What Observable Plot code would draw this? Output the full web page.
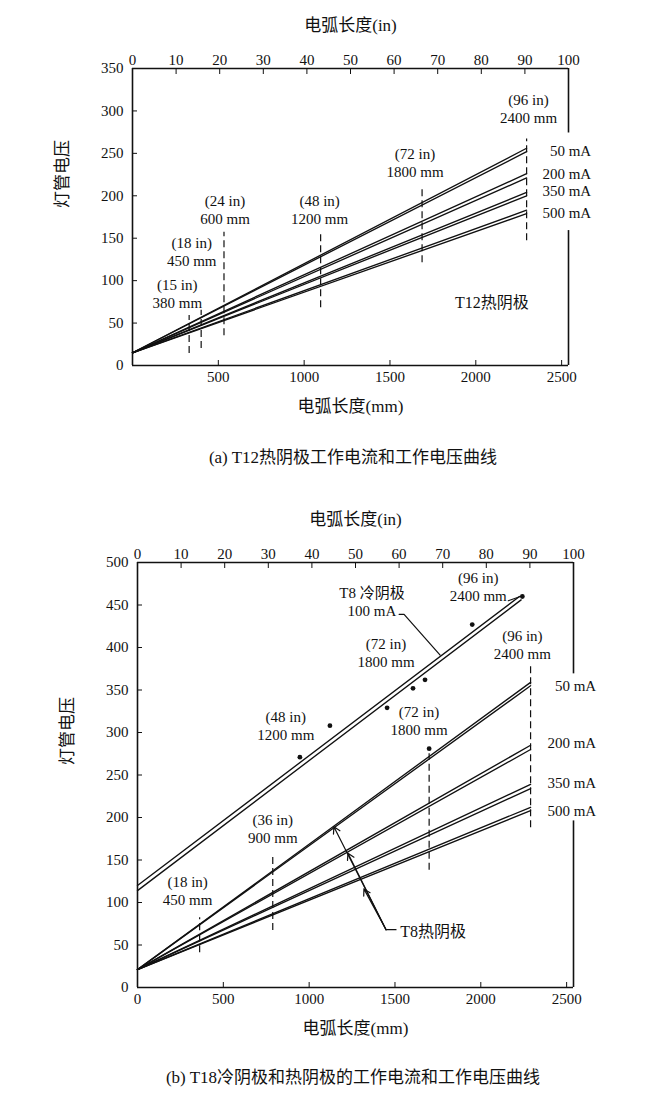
<!DOCTYPE html>
<html><head><meta charset="utf-8">
<script src="https://cdn.jsdelivr.net/npm/d3@7"></script>
<script src="https://cdn.jsdelivr.net/npm/@observablehq/plot@0.6"></script>
<style>
body{margin:0;background:#fff;}
#wrap{position:relative;width:650px;height:1100px;overflow:hidden;font-family:"Liberation Serif","Noto Sans CJK SC",serif;color:#111;}
.plot{position:absolute;left:0;}
.cap{position:absolute;left:28px;width:650px;text-align:center;font-size:17px;line-height:22px;}
</style></head><body><div id="wrap"></div>
<script>
// ---------- shared tick values ----------
const inchTicks = [0,10,20,30,40,50,60,70,80,90,100];
const mmTicksA = [500,1000,1500,2000,2500];
const mmTicksB = [0,500,1000,1500,2000,2500];
const voltTicksA = [0,50,100,150,200,250,300,350];
const voltTicksB = [0,50,100,150,200,250,300,350,400,450,500];
const currents = ["50 mA","200 mA","350 mA","500 mA"];

// ---------- (a) T12 hot cathode ----------
const t12StartV = 15;
const t12EndArc = 2296;
const t12EndUpper = [256,226,204,183];
const t12EndLower = [252,221,200,179];
const t12LabelV = [253,226,205,180];
const t12MarkArc = [330,400,533,1096,1687,2296];
const t12MarkLow = [14,20,35,68,121,147];
const t12MarkHigh = [59,65,157,157,208,267];
const t12MarkText = ["(15 in)\n380 mm","(18 in)\n450 mm","(24 in)\n600 mm","(48 in)\n1200 mm","(72 in)\n1800 mm","(96 in)\n2400 mm"];
const t12MarkTextArc = [261,345,539,1090,1646,2307];
const t12MarkTextV = [85,135,184,184,240,303];
const frameRightA = [[0,159],[274,350]];

// ---------- (b) T8 cold & hot cathode ----------
const t8HotStartV = 21;
const t8HotEndArc = 2290;
const t8HotEndUpper = [359,285,239,212];
const t8HotEndLower = [355,280,234,208];
const t8HotLabelV = [355,288,240,208];
const t8ColdStartV = [120,114];
const t8ColdEndArc = [2225,2235];
const t8ColdEndV = [460,456];
const coldDotArc = [946,1121,1454,1605,1675,1950,2242,1699];
const coldDotV = [271,308,329,352,362,427,460,281];
const t8MarkArc = [362,788,1699,2290];
const t8MarkLow = [41,67,138,188];
const t8MarkHigh = [82,155,275,379];
const t8MarkText = ["(18 in)\n450 mm","(36 in)\n900 mm","(48 in)\n1200 mm","(72 in)\n1800 mm","(72 in)\n1800 mm","(96 in)\n2400 mm","(96 in)\n2400 mm","T8 冷阴极\n100 mA"];
const t8MarkTextArc = [292,788,864,1448,1640,2242,1985,1366];
const t8MarkTextV = [114,187,308,394,314,404,472,454];
const coldLeaderArc = [1524,1553,1763];
const coldLeaderV = [439,439,391];
const dotLeaderArc = [2160,2230];
const dotLeaderV = [455,460];
const hotArrowFrom = [1448,68];
const hotArrowToArc = [1144,1226,1319];
const hotArrowToV = [189,158,116];
const hotLeaderArc = [1448,1506];
const hotLeaderV = [68,68];
const frameRightB = [[0,196],[369,500]];

// ---------- helpers ----------
const FONT = '"Liberation Serif","Noto Sans CJK SC",serif';
const INK = "#111";
const labelX = 2672;
const LW = 1.35;

function pairLines(startV, endArc, endU, endL) {
  const rows = [];
  currents.forEach((c,i) => {
    rows.push({id:c+"u", arc:0, v:startV}, {id:c+"u", arc:endArc, v:endU[i]});
    rows.push({id:c+"l", arc:0, v:startV}, {id:c+"l", arc:endArc, v:endL[i]});
  });
  return rows;
}
const inchMm = inchTicks.map(d=>d*25.4);
function axes(mmTicks, vTicks) {
  const blank = () => "";
  return [
    Plot.axisX({anchor:"bottom", ticks: mmTicks, tickSize:5, dy:-5, tickFormat:blank, label:null, stroke:INK}),
    Plot.axisX({anchor:"bottom", ticks: mmTicks, tickFormat: d=>String(d), tickSize:0, tickPadding:6, fontSize:15, label:null}),
    Plot.axisX({anchor:"top", ticks: inchMm, tickSize:5, dy:5, tickFormat:blank, label:null, stroke:INK}),
    Plot.axisX({anchor:"top", ticks: inchMm, tickFormat: d=>String(Math.round(d/25.4)), tickSize:0, tickPadding:4, fontSize:15, label:null}),
    Plot.axisY({anchor:"left", ticks: vTicks, tickSize:5, dx:5, tickFormat:blank, label:null, stroke:INK}),
    Plot.axisY({anchor:"left", ticks: vTicks, tickFormat: d=>String(d), tickSize:0, tickPadding:9, fontSize:15, label:null})
  ];
}
function frame(vMax, rightSegs) {
  return [
    Plot.ruleY([0, vMax], {stroke:INK, strokeWidth:1.6}),
    Plot.ruleX([0], {stroke:INK, strokeWidth:1.6}),
    Plot.ruleX(rightSegs, {x: () => 2540, y1: d=>d[0], y2: d=>d[1], stroke:INK, strokeWidth:1.6})
  ];
}
function titles(dxY, dyY) {
  return [
    Plot.text(["电弧长度(in)"], {frameAnchor:"top", dy:-50, fontSize:17, fill:INK}),
    Plot.text(["电弧长度(mm)"], {frameAnchor:"bottom", dy:46, fontSize:17, fill:INK}),
    Plot.text(["灯管电压"], {frameAnchor:"left", dx:dxY, dy:dyY, rotate:-90, fontSize:17, fill:INK})
  ];
}

// ---------- chart (a) ----------
const marksA = t12MarkArc.map((a,i)=>({arc:a, lo:t12MarkLow[i], hi:t12MarkHigh[i]}));
const textA = t12MarkText.map((t,i)=>({text:t, arc:t12MarkTextArc[i], v:t12MarkTextV[i]}));
const labA = currents.map((c,i)=>({text:c, v:t12LabelV[i]}));

const plotA = Plot.plot({
  width:650, height:430, marginLeft:132, marginRight:82, marginTop:68, marginBottom:65,
  style:{fontFamily:FONT, fontSize:"15px", color:INK, background:"white"},
  x:{domain:[0,2540]}, y:{domain:[0,350]},
  marks:[
    ...frame(350, frameRightA),
    ...axes(mmTicksA, voltTicksA),
    ...titles(-70, -9),
    Plot.line(pairLines(t12StartV, t12EndArc, t12EndUpper, t12EndLower), {x:"arc", y:"v", z:"id", stroke:INK, strokeWidth:LW}),
    Plot.ruleX(marksA, {x:"arc", y1:"lo", y2:"hi", stroke:INK, strokeWidth:1.2, strokeDasharray:"7,4"}),
    Plot.text(textA, {x:"arc", y:"v", text:"text", lineHeight:1.2, fontSize:15, fill:INK}),
    Plot.text(labA, {x:()=>labelX, y:"v", text:"text", textAnchor:"end", fontSize:15, fill:INK}),
    Plot.text(["T12热阴极"], {x:()=>2093, y:()=>74, fontSize:16, fill:INK})
  ]
});
plotA.classList.add("plot");
plotA.style.top = "0px";

// ---------- chart (b) ----------
const hotRows = pairLines(t8HotStartV, t8HotEndArc, t8HotEndUpper, t8HotEndLower);
const coldRows = [];
t8ColdStartV.forEach((s,i)=>{
  coldRows.push({id:"c"+i, arc:0, v:s}, {id:"c"+i, arc:t8ColdEndArc[i], v:t8ColdEndV[i]});
});
const marksB = t8MarkArc.map((a,i)=>({arc:a, lo:t8MarkLow[i], hi:t8MarkHigh[i]}));
const textB = t8MarkText.map((t,i)=>({text:t, arc:t8MarkTextArc[i], v:t8MarkTextV[i]}));
const labB = currents.map((c,i)=>({text:c, v:t8HotLabelV[i]}));
const dotsB = coldDotArc.map((a,i)=>({arc:a, v:coldDotV[i]}));
const coldLeader = coldLeaderArc.map((a,i)=>({arc:a, v:coldLeaderV[i]}));
const dotLeader = dotLeaderArc.map((a,i)=>({arc:a, v:dotLeaderV[i]}));
const hotLeader = hotLeaderArc.map((a,i)=>({arc:a, v:hotLeaderV[i]}));
const hotArrows = hotArrowToArc.map((a,i)=>({x1:hotArrowFrom[0], y1:hotArrowFrom[1], x2:a, y2:hotArrowToV[i]}));

const plotB = Plot.plot({
  width:650, height:550, marginLeft:137, marginRight:77, marginTop:67, marginBottom:58,
  style:{fontFamily:FONT, fontSize:"15px", color:INK, background:"white"},
  x:{domain:[0,2540]}, y:{domain:[0,500]},
  marks:[
    ...frame(500, frameRightB),
    ...axes(mmTicksB, voltTicksB),
    ...titles(-70, -10),
    Plot.line(hotRows, {x:"arc", y:"v", z:"id", stroke:INK, strokeWidth:LW}),
    Plot.line(coldRows, {x:"arc", y:"v", z:"id", stroke:INK, strokeWidth:LW}),
    Plot.ruleX(marksB, {x:"arc", y1:"lo", y2:"hi", stroke:INK, strokeWidth:1.2, strokeDasharray:"7,4"}),
    Plot.dot(dotsB, {x:"arc", y:"v", r:2.4, fill:INK}),
    Plot.line(coldLeader, {x:"arc", y:"v", stroke:INK, strokeWidth:1.2}),
    Plot.line(dotLeader, {x:"arc", y:"v", stroke:INK, strokeWidth:1.2}),
    Plot.line(hotLeader, {x:"arc", y:"v", stroke:INK, strokeWidth:1.2}),
    Plot.arrow(hotArrows, {x1:"x1", y1:"y1", x2:"x2", y2:"y2", stroke:INK, strokeWidth:1.2, headLength:9}),
    Plot.text(textB, {x:"arc", y:"v", text:"text", lineHeight:1.2, fontSize:15, fill:INK}),
    Plot.text(labB, {x:()=>labelX, y:"v", text:"text", textAnchor:"end", fontSize:15, fill:INK}),
    Plot.text(["T8热阴极"], {x:()=>1530, y:()=>65, textAnchor:"start", fontSize:16, fill:INK})
  ]
});
plotB.classList.add("plot");
plotB.style.top = "495px";

const wrap = document.getElementById("wrap");
wrap.appendChild(plotA);
wrap.appendChild(plotB);
const capA = document.createElement("div");
capA.className = "cap"; capA.style.top = "447px";
capA.textContent = "(a) T12热阴极工作电流和工作电压曲线";
const capB = document.createElement("div");
capB.className = "cap"; capB.style.top = "1067px";
capB.textContent = "(b) T18冷阴极和热阴极的工作电流和工作电压曲线";
wrap.appendChild(capA);
wrap.appendChild(capB);
</script>
</body></html>
